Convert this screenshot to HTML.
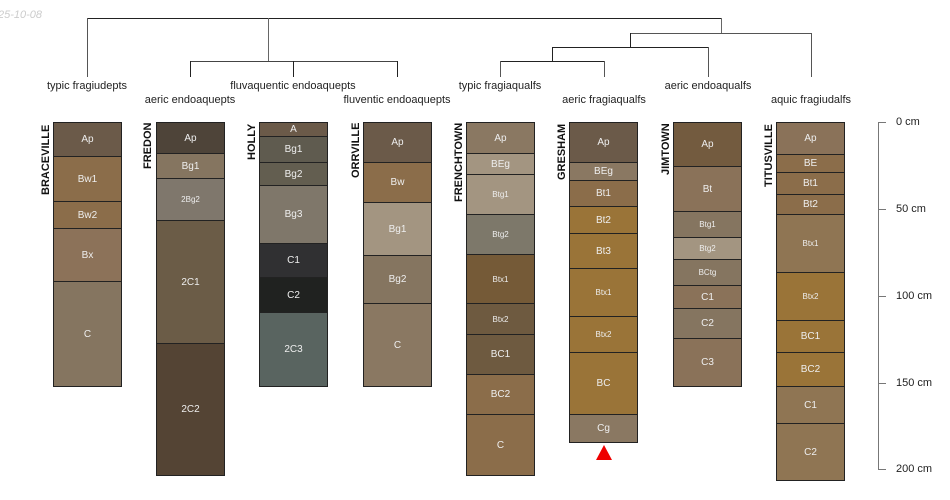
<!DOCTYPE html>
<html><head><style>
body{margin:0;width:950px;height:500px;background:#fff;position:relative;overflow:hidden;font-family:"Liberation Sans",sans-serif}
.l{position:absolute;background:#222}
.t{position:absolute;font-size:11px;color:#222;white-space:nowrap;transform:translateX(-50%)}
.p{position:absolute;top:122px;width:67px;border:1px solid #222;box-sizing:content-box}
.h{box-sizing:border-box;border-bottom:1px solid #222;color:#eee;font-size:10px;display:flex;align-items:center;justify-content:center;overflow:hidden}
.s{font-size:8px}
.n{position:absolute;font-size:11px;font-weight:bold;color:#111;transform-origin:0 0;transform:rotate(-90deg);white-space:nowrap}
</style></head><body>
<div style="position:absolute;left:-2px;top:9px;font-size:11px;font-style:italic;color:#ccc">25-10-08</div>
<div class="l" style="left:87px;top:18px;width:635px;height:1px"></div>
<div class="l" style="left:87px;top:18px;width:1px;height:59px;background:#555"></div>
<div class="l" style="left:268px;top:18px;width:1px;height:44px;background:#666"></div>
<div class="l" style="left:190px;top:61px;width:208px;height:1px;background:#444"></div>
<div class="l" style="left:190px;top:61px;width:1px;height:16px"></div>
<div class="l" style="left:293px;top:61px;width:1px;height:16px"></div>
<div class="l" style="left:397px;top:61px;width:1px;height:16px"></div>
<div class="l" style="left:721px;top:18px;width:1px;height:16px;background:#666"></div>
<div class="l" style="left:630px;top:33px;width:182px;height:1px;background:#555"></div>
<div class="l" style="left:630px;top:33px;width:1px;height:15px"></div>
<div class="l" style="left:811px;top:33px;width:1px;height:44px;background:#555"></div>
<div class="l" style="left:552px;top:47px;width:157px;height:1px"></div>
<div class="l" style="left:552px;top:47px;width:1px;height:15px"></div>
<div class="l" style="left:708px;top:47px;width:1px;height:30px;background:#555"></div>
<div class="l" style="left:500px;top:61px;width:105px;height:1px"></div>
<div class="l" style="left:500px;top:61px;width:1px;height:16px;background:#555"></div>
<div class="l" style="left:604px;top:61px;width:1px;height:16px;background:#555"></div>
<div class="t" style="left:87px;top:80px">typic fragiudepts</div>
<div class="t" style="left:190px;top:94px">aeric endoaquepts</div>
<div class="t" style="left:293px;top:80px">fluvaquentic endoaquepts</div>
<div class="t" style="left:397px;top:94px">fluventic endoaquepts</div>
<div class="t" style="left:500px;top:80px">typic fragiaqualfs</div>
<div class="t" style="left:604px;top:94px">aeric fragiaqualfs</div>
<div class="t" style="left:708px;top:80px">aeric endoaqualfs</div>
<div class="t" style="left:811px;top:94px">aquic fragiudalfs</div>
<div class="n" style="left:40px;top:195px">BRACEVILLE</div>
<div class="n" style="left:142px;top:169px">FREDON</div>
<div class="n" style="left:246px;top:160px">HOLLY</div>
<div class="n" style="left:350px;top:178px">ORRVILLE</div>
<div class="n" style="left:453px;top:202px">FRENCHTOWN</div>
<div class="n" style="left:556px;top:180px">GRESHAM</div>
<div class="n" style="left:660px;top:175px">JIMTOWN</div>
<div class="n" style="left:763px;top:187px">TITUSVILLE</div>
<div class="p" style="left:53px">
<div class="h" style="height:34px;background:#6b5a49">Ap</div>
<div class="h" style="height:45px;background:#8b6d4a">Bw1</div>
<div class="h" style="height:27px;background:#8b6d4a">Bw2</div>
<div class="h" style="height:53px;background:#8c7259">Bx</div>
<div class="h" style="height:104px;background:#857560;border:0">C</div></div>
<div class="p" style="left:156px">
<div class="h" style="height:31px;background:#4e4439">Ap</div>
<div class="h" style="height:25px;background:#857560">Bg1</div>
<div class="h s" style="height:42px;background:#7f776c">2Bg2</div>
<div class="h" style="height:123px;background:#6b5c47">2C1</div>
<div class="h" style="height:131px;background:#544434;border:0">2C2</div></div>
<div class="p" style="left:259px">
<div class="h" style="height:14px;background:#6b5a49">A</div>
<div class="h" style="height:26px;background:#5f5b4f">Bg1</div>
<div class="h" style="height:23px;background:#635e50">Bg2</div>
<div class="h" style="height:58px;background:#7f776a">Bg3</div>
<div class="h" style="height:34px;background:#303032">C1</div>
<div class="h" style="height:35px;background:#202220">C2</div>
<div class="h" style="height:73px;background:#596460;border:0">2C3</div></div>
<div class="p" style="left:363px">
<div class="h" style="height:40px;background:#6b5a49">Ap</div>
<div class="h" style="height:40px;background:#8b6d4a">Bw</div>
<div class="h" style="height:53px;background:#a39581">Bg1</div>
<div class="h" style="height:48px;background:#857560">Bg2</div>
<div class="h" style="height:82px;background:#8a7862;border:0">C</div></div>
<div class="p" style="left:466px">
<div class="h" style="height:31px;background:#8a7862">Ap</div>
<div class="h" style="height:21px;background:#a39581">BEg</div>
<div class="h s" style="height:40px;background:#a39581">Btg1</div>
<div class="h s" style="height:40px;background:#7d786a">Btg2</div>
<div class="h s" style="height:49px;background:#755a37">Btx1</div>
<div class="h s" style="height:31px;background:#6e5a40">Btx2</div>
<div class="h" style="height:40px;background:#6e5a40">BC1</div>
<div class="h" style="height:40px;background:#8b6d4a">BC2</div>
<div class="h" style="height:60px;background:#8b6d4a;border:0">C</div></div>
<div class="p" style="left:569px">
<div class="h" style="height:40px;background:#6b5a49">Ap</div>
<div class="h" style="height:18px;background:#8a7862">BEg</div>
<div class="h" style="height:26px;background:#8b6d4a">Bt1</div>
<div class="h" style="height:27px;background:#9a7438">Bt2</div>
<div class="h" style="height:35px;background:#9a7438">Bt3</div>
<div class="h s" style="height:48px;background:#9a7438">Btx1</div>
<div class="h s" style="height:36px;background:#9a7438">Btx2</div>
<div class="h" style="height:62px;background:#9a7438">BC</div>
<div class="h" style="height:27px;background:#8a7862;border:0">Cg</div></div>
<div style="position:absolute;left:596px;top:445px;width:0;height:0;border-left:8px solid transparent;border-right:8px solid transparent;border-bottom:15px solid #e00"></div>
<div class="p" style="left:673px">
<div class="h" style="height:44px;background:#735b3f">Ap</div>
<div class="h" style="height:45px;background:#8a7259">Bt</div>
<div class="h s" style="height:26px;background:#857560">Btg1</div>
<div class="h s" style="height:22px;background:#a39581">Btg2</div>
<div class="h s" style="height:26px;background:#857560">BCtg</div>
<div class="h" style="height:23px;background:#8a7259">C1</div>
<div class="h" style="height:30px;background:#857560">C2</div>
<div class="h" style="height:47px;background:#8a7259;border:0">C3</div></div>
<div class="p" style="left:776px">
<div class="h" style="height:32px;background:#8a7259">Ap</div>
<div class="h" style="height:18px;background:#8b6d4a">BE</div>
<div class="h" style="height:22px;background:#8b6d4a">Bt1</div>
<div class="h" style="height:20px;background:#8b6d4a">Bt2</div>
<div class="h s" style="height:58px;background:#8f7553">Btx1</div>
<div class="h s" style="height:48px;background:#9a7438">Btx2</div>
<div class="h" style="height:32px;background:#9a7438">BC1</div>
<div class="h" style="height:34px;background:#9a7438">BC2</div>
<div class="h" style="height:37px;background:#8f7553">C1</div>
<div class="h" style="height:56px;background:#8f7553;border:0">C2</div></div>
<div class="l" style="left:878px;top:122px;width:1px;height:348px;background:#777"></div>
<div class="l" style="left:878px;top:122px;width:8px;height:1px;background:#777"></div>
<div class="l" style="left:878px;top:209px;width:8px;height:1px;background:#777"></div>
<div class="l" style="left:878px;top:296px;width:8px;height:1px;background:#777"></div>
<div class="l" style="left:878px;top:383px;width:8px;height:1px;background:#777"></div>
<div class="l" style="left:878px;top:469px;width:8px;height:1px;background:#777"></div>
<div style="position:absolute;left:896px;top:116px;font-size:11px;color:#222">0 cm</div>
<div style="position:absolute;left:896px;top:203px;font-size:11px;color:#222">50 cm</div>
<div style="position:absolute;left:896px;top:290px;font-size:11px;color:#222">100 cm</div>
<div style="position:absolute;left:896px;top:377px;font-size:11px;color:#222">150 cm</div>
<div style="position:absolute;left:896px;top:463px;font-size:11px;color:#222">200 cm</div>
</body></html>
